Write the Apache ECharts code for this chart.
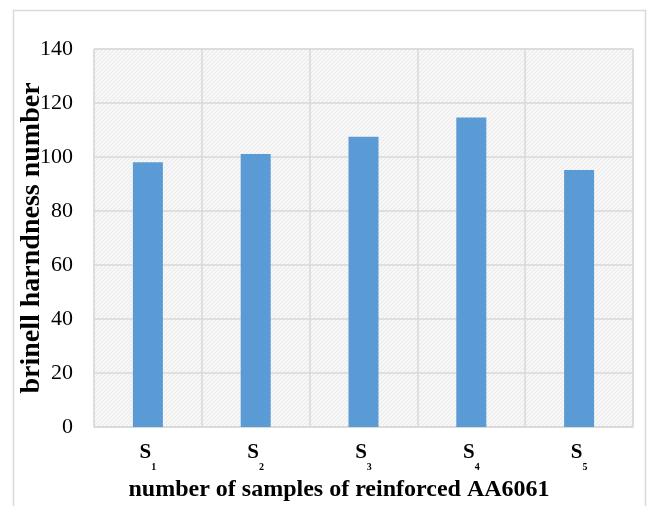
<!DOCTYPE html>
<html><head><meta charset="utf-8">
<script src="https://cdn.jsdelivr.net/npm/echarts@6/dist/echarts.min.js"></script>
<style>html,body{margin:0;padding:0;background:#fff}#c{width:652px;height:506px}</style>
</head><body><div id="c"></div>
<script>
const categories = ['1','2','3','4','5'];
const hardness = [98.1, 101.1, 107.5, 114.6, 95.2];
const yTicks = [0, 20, 40, 60, 80, 100, 120, 140];
const yTitle = 'brinell harndness number';
const xTitle = 'number of samples of reinforced AA6061';

// hatched background pattern
const pc = document.createElement('canvas');
pc.width = 4; pc.height = 4;
const g = pc.getContext('2d');
g.fillStyle = '#f7f7f7'; g.fillRect(0,0,4,4);
g.fillStyle = '#e9e9e9';
for (let i = 0; i < 4; i++) g.fillRect(i, 3 - i, 1, 1);

const chart = echarts.init(document.getElementById('c'));
const serif = '"Liberation Serif", "Times New Roman", serif';
chart.setOption({
  animation: false,
  graphic: [
    { type: 'rect', shape: { x: 13.5, y: 10.5, width: 632, height: 520 },
      style: { fill: 'none', stroke: '#d9d9d9', lineWidth: 1.5 }, z: -10 },
    { type: 'text', x: 339, y: 490,
      style: { text: xTitle, font: 'bold 24px ' + serif, fill: '#000', align: 'center', verticalAlign: 'middle' } }
  ],
  grid: { left: 94, right: 19, top: 49, bottom: 79, show: true, outerBoundsMode: 'none', containLabel: false,
    backgroundColor: { image: pc, repeat: 'repeat' }, borderColor: '#d9d9d9', borderWidth: 1 },
  xAxis: {
    type: 'category', data: categories,
    axisLine: { show: true, lineStyle: { color: '#d9d9d9', width: 1.5 } },
    axisTick: { show: false },
    splitLine: { show: true, lineStyle: { color: '#d9d9d9', width: 1.5 } },
    axisLabel: {
      margin: 15,
      formatter: v => '{s|S}{sub|' + v + '}',
      rich: {
        s: { fontFamily: serif, fontWeight: 'bold', fontSize: 21, color: '#000', verticalAlign: 'top', lineHeight: 26 },
        sub: { fontFamily: serif, fontWeight: 'bold', fontSize: 10, color: '#000', verticalAlign: 'bottom', padding: [0,0,-4,0], lineHeight: 26 }
      }
    }
  },
  yAxis: {
    type: 'value', min: yTicks[0], max: yTicks[yTicks.length-1], interval: 20,
    name: yTitle, nameLocation: 'middle', nameGap: 48, nameMoveOverlap: false,
    nameTextStyle: { fontFamily: serif, fontWeight: 'bold', fontSize: 28, color: '#000' },
    axisLine: { show: false }, axisTick: { show: false },
    splitLine: { show: true, lineStyle: { color: '#d9d9d9', width: 1.5 } },
    axisLabel: { margin: 21, fontFamily: serif, fontSize: 22, color: '#000' }
  },
  series: [{
    type: 'bar', data: hardness, barWidth: 30,
    itemStyle: { color: '#5b9bd5' }
  }]
});
</script></body></html>
